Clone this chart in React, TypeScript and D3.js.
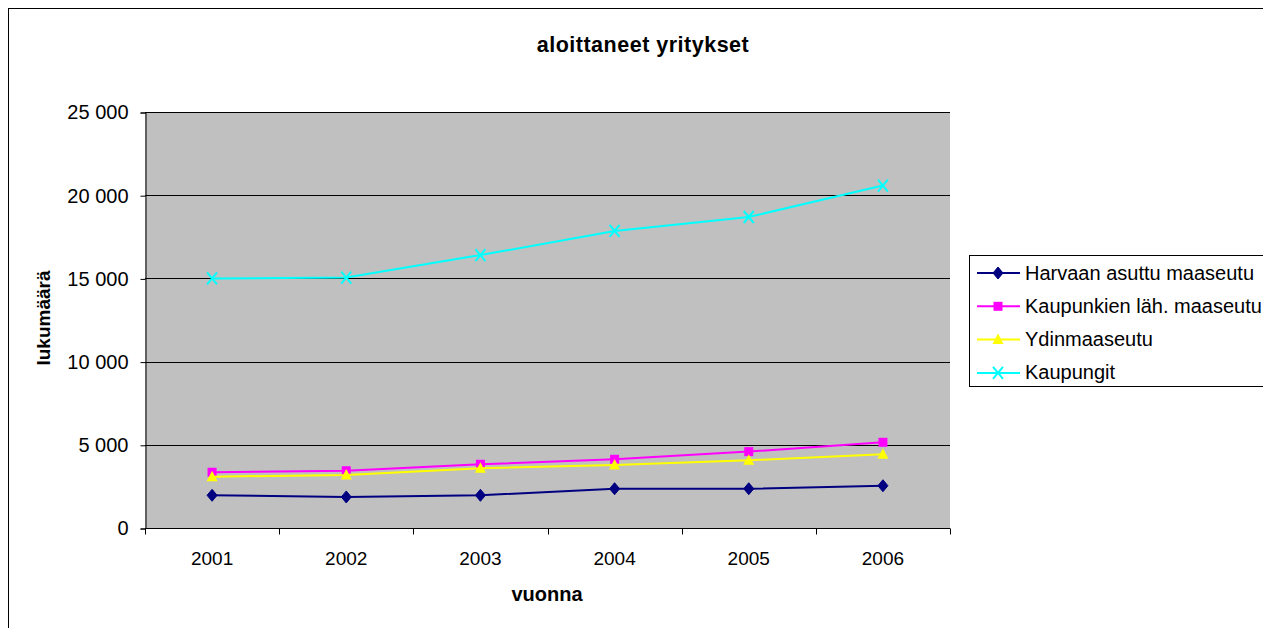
import { useEffect, useRef } from "react";
import * as d3 from "d3";

const years = ["2001", "2002", "2003", "2004", "2005", "2006"];
const harvaan = [1965, 1865, 1965, 2360, 2360, 2540];
const kaupunkienLah = [3350, 3440, 3830, 4130, 4590, 5150];
const ydin = [3085, 3185, 3590, 3790, 4070, 4430];
const kaupungit = [15000, 15050, 16400, 17850, 18690, 20580];
const yTicks = [0, 5000, 10000, 15000, 20000, 25000];

const seriesNames = ["Harvaan asuttu maaseutu", "Kaupunkien läh. maaseutu", "Ydinmaaseutu", "Kaupungit"];
const seriesColors = ["#000080", "#FF00FF", "#FFFF00", "#00FFFF"];
const seriesMarkers = ["diamond", "square", "triangle", "x"];

const App = () => {
  const svgRef = useRef<SVGSVGElement>(null);

  useEffect(() => {
    const svg = d3.select(svgRef.current);
    svg.selectAll("*").remove();

    const left = 145, right = 950, top = 112, bottom = 528;
    const font = "'Liberation Sans', Arial, sans-serif";

    // outer chart frame
    svg.append("rect")
      .attr("x", 8.5).attr("y", 8.5)
      .attr("width", 1300).attr("height", 700)
      .attr("fill", "white").attr("stroke", "black").attr("stroke-width", 1);

    const x = d3.scaleBand().domain(years).range([left, right]);
    const y = d3.scaleLinear().domain([0, 25000]).range([bottom, top]);

    // plot area
    svg.append("rect")
      .attr("x", left).attr("y", top)
      .attr("width", right - left).attr("height", bottom - top)
      .attr("fill", "#C0C0C0");

    // gridlines
    svg.append("g").selectAll("line").data(yTicks.slice(1)).join("line")
      .attr("x1", left).attr("x2", right)
      .attr("y1", d => Math.round(y(d)) + 0.5).attr("y2", d => Math.round(y(d)) + 0.5)
      .attr("stroke", "black").attr("stroke-width", 1);

    // y axis
    const fmt = (d: number) => d === 0 ? "0" : d3.format(",")(d).replace(",", " ");
    const yAxis = svg.append("g")
      .attr("transform", `translate(${left + 0.5},0.5)`)
      .call(d3.axisLeft(y).tickValues(yTicks).tickSize(5).tickPadding(12).tickFormat(d => fmt(+d)));
    yAxis.select(".domain").attr("stroke", "black");
    yAxis.selectAll(".tick line").attr("stroke", "black");
    yAxis.selectAll("text").attr("font-family", font).attr("font-size", 20).attr("fill", "black");

    // x axis
    const xAxisG = svg.append("g").attr("transform", `translate(0,${bottom + 0.5})`);
    xAxisG.append("line").attr("x1", left).attr("x2", right).attr("stroke", "black");
    const bounds = d3.range(years.length + 1).map(i => left + i * x.bandwidth());
    xAxisG.selectAll("line.tk").data(bounds).join("line").attr("class", "tk")
      .attr("x1", d => Math.round(d) + 0.5).attr("x2", d => Math.round(d) + 0.5)
      .attr("y1", 0).attr("y2", 6).attr("stroke", "black");
    xAxisG.selectAll("text").data(years).join("text")
      .attr("x", d => x(d)! + x.bandwidth() / 2).attr("y", 36.5)
      .attr("text-anchor", "middle")
      .attr("font-family", font).attr("font-size", 19).text(d => d);

    // titles
    svg.append("text").attr("x", 643).attr("y", 52).attr("text-anchor", "middle")
      .attr("font-family", font).attr("font-size", 21.5).attr("font-weight", "bold")
      .attr("letter-spacing", 0.5)
      .text("aloittaneet yritykset");
    svg.append("text").attr("x", 547).attr("y", 601).attr("text-anchor", "middle")
      .attr("font-family", font).attr("font-size", 20).attr("font-weight", "bold")
      .text("vuonna");
    svg.append("text").attr("transform", "translate(50,318) rotate(-90)").attr("text-anchor", "middle")
      .attr("font-family", font).attr("font-size", 19).attr("font-weight", "bold")
      .text("lukumäärä");

    const drawMarker = (g: any, type: string, color: string, cx: number, cy: number) => {
      if (type === "diamond") {
        g.append("path").attr("d", `M${cx},${cy - 6}L${cx + 5},${cy}L${cx},${cy + 6}L${cx - 5},${cy}Z`)
          .attr("fill", color).attr("stroke", color);
      } else if (type === "square") {
        g.append("rect").attr("x", cx - 4.5).attr("y", cy - 4.5).attr("width", 9).attr("height", 9)
          .attr("fill", color);
      } else if (type === "triangle") {
        g.append("path").attr("d", `M${cx},${cy - 6}L${cx + 5.5},${cy + 4.5}L${cx - 5.5},${cy + 4.5}Z`)
          .attr("fill", color);
      } else {
        g.append("path").attr("d", `M${cx - 5},${cy - 6}L${cx + 5},${cy + 6}M${cx + 5},${cy - 6}L${cx - 5},${cy + 6}`)
          .attr("stroke", color).attr("stroke-width", 2).attr("fill", "none");
      }
    };

    const allSeries = [harvaan, kaupunkienLah, ydin, kaupungit];
    const line = d3.line<number>()
      .x((_, i) => x(years[i])! + x.bandwidth() / 2)
      .y(d => y(d));

    allSeries.forEach((vals, si) => {
      const g = svg.append("g");
      g.append("path").datum(vals).attr("d", line)
        .attr("fill", "none").attr("stroke", seriesColors[si]).attr("stroke-width", 2);
      vals.forEach((v, i) => drawMarker(g, seriesMarkers[si], seriesColors[si], x(years[i])! + x.bandwidth() / 2, y(v)));
    });

    // legend
    const lg = svg.append("g");
    lg.append("rect").attr("x", 969.5).attr("y", 255.5).attr("width", 400).attr("height", 131)
      .attr("fill", "white").attr("stroke", "black");
    seriesNames.forEach((name, i) => {
      const ly = 273 + i * 33.3;
      lg.append("line").attr("x1", 977).attr("x2", 1020).attr("y1", ly).attr("y2", ly)
        .attr("stroke", seriesColors[i]).attr("stroke-width", 2);
      drawMarker(lg, seriesMarkers[i], seriesColors[i], 998, ly);
      lg.append("text").attr("x", 1025).attr("y", ly + 6.5)
        .attr("font-family", font).attr("font-size", 20).text(name);
    });
  }, []);

  return (
    <svg ref={svgRef} width={1263} height={628}
      style={{ position: "absolute", left: 0, top: 0, background: "white" }} />
  );
};

export default App;
